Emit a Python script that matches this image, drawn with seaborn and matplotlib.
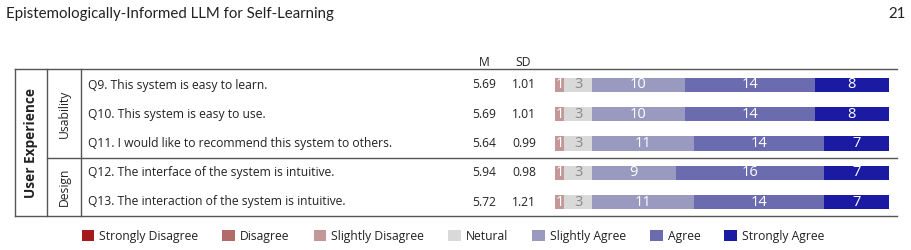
import matplotlib.pyplot as plt
import numpy as np
import pandas as pd
import seaborn as sns
from matplotlib.patches import Patch

# survey items and their Likert counts (36 respondents)
questions = [
    "Q9. This system is easy to learn.",
    "Q10. This system is easy to use.",
    "Q11. I would like to recommend this system to others.",
    "Q12. The interface of the system is intuitive.",
    "Q13. The interaction of the system is intuitive.",
]
levels = [
    "Strongly Disagree", "Disagree", "Slightly Disagree", "Netural",
    "Slightly Agree", "Agree", "Strongly Agree",
]
strongly_disagree = [0, 0, 0, 0, 0]
disagree = [0, 0, 0, 0, 0]
slightly_disagree = [1, 1, 1, 1, 1]
neutral = [3, 3, 3, 3, 3]
slightly_agree = [10, 10, 11, 9, 11]
agree = [14, 14, 14, 16, 14]
strongly_agree = [8, 8, 7, 7, 7]
means = ["5.69", "5.69", "5.64", "5.94", "5.72"]
sds = ["1.01", "1.01", "0.99", "0.98", "1.21"]
groups = [("Usability", 0, 2), ("Design", 3, 4)]
construct = "User Experience"

colors = ["#a51a1a", "#b36a6a", "#c49898", "#d9d9d9",
          "#9a9ac0", "#6b6bb0", "#1a1aa3"]
label_colors = ["white", "white", "white", "#8a8a8a",
                "white", "white", "white"]

counts = pd.DataFrame(
    np.array([strongly_disagree, disagree, slightly_disagree, neutral,
              slightly_agree, agree, strongly_agree]).T,
    index=questions, columns=levels,
)
cum = counts.cumsum(axis=1)
total = int(cum.iloc[0, -1])

plt.rcParams["font.family"] = ["Open Sans", "DejaVu Sans"]
fig = plt.figure(figsize=(9.12, 2.5), dpi=100)

# background axes in pixel coordinates for the table frame and text
bg = fig.add_axes([0, 0, 1, 1])
bg.set_xlim(0, 912)
bg.set_ylim(250, 0)
bg.axis("off")

row0, step = 85, 29.25
row_y = [row0 + step * i for i in range(len(questions))]
top, bottom = 69, 216
mid = (row_y[2] + row_y[3]) / 2

# bars axes aligned to the rows
y_top = row0 - step / 2
y_bot = row_y[-1] + step / 2
ax = fig.add_axes([555 / 912, 1 - y_bot / 250, 334 / 912, (y_bot - y_top) / 250])
for k in range(len(levels) - 1, -1, -1):
    sns.barplot(x=cum[levels[k]].values, y=questions, order=questions,
                orient="h", color=colors[k], saturation=1, width=0.48,
                errorbar=None, linewidth=0, ax=ax)
ax.set_xlim(0, total)
ax.set_ylim(len(questions) - 0.5, -0.5)
ax.axis("off")

for i, q in enumerate(questions):
    left = 0
    for k, lev in enumerate(levels):
        n = counts.loc[q, lev]
        if n > 0:
            ax.text(left + n / 2, i, str(n), ha="center", va="center",
                    fontsize=10.5, color=label_colors[k])
        left += n

line_kw = dict(color="#555555", lw=1.0)
bg.plot([15, 897], [top, top], **line_kw)
bg.plot([15, 897], [bottom, bottom], **line_kw)
bg.plot([47, 897], [mid, mid], **line_kw)
for x in (15, 47, 81):
    bg.plot([x, x], [top, bottom], **line_kw)

txt = "#222222"
fs = 8.7
bg.text(6, 14, "Epistemologically-Informed LLM for Self-Learning",
        fontsize=10.8, va="center", ha="left", color=txt, family=["Lato"])
bg.text(906, 14, "21", fontsize=10.8, va="center", ha="right", color=txt,
        family=["Lato"])
bg.text(484, 62, "M", fontsize=fs, ha="center", va="center", color=txt)
bg.text(523, 62, "SD", fontsize=fs, ha="center", va="center", color=txt)

for i, q in enumerate(questions):
    bg.text(88, row_y[i], q, fontsize=fs, ha="left", va="center", color=txt)
    bg.text(496, row_y[i], means[i], fontsize=fs, ha="right", va="center", color=txt)
    bg.text(536, row_y[i], sds[i], fontsize=fs, ha="right", va="center", color=txt)

bg.text(31, (top + bottom) / 2, construct, rotation=90, fontsize=9.8,
        fontweight="bold", ha="center", va="center", color=txt)
group_edges = [top, mid, bottom]
for g, (name, a, b) in enumerate(groups):
    bg.text(64, (group_edges[g] + group_edges[g + 1]) / 2, name, rotation=90,
            fontsize=fs, ha="center", va="center", color=txt)

handles = [Patch(facecolor=c, edgecolor="none", label=l)
           for c, l in zip(colors, levels)]
fig.legend(handles=handles, ncol=7, frameon=False, loc="center",
           bbox_to_anchor=((81 + 825) / 2 / 912, 1 - 236.5 / 250),
           fontsize=fs, handlelength=1.05, handleheight=1.05,
           handletextpad=0.4, columnspacing=2.0, labelcolor=txt)

fig.savefig("out.png", dpi=100)
